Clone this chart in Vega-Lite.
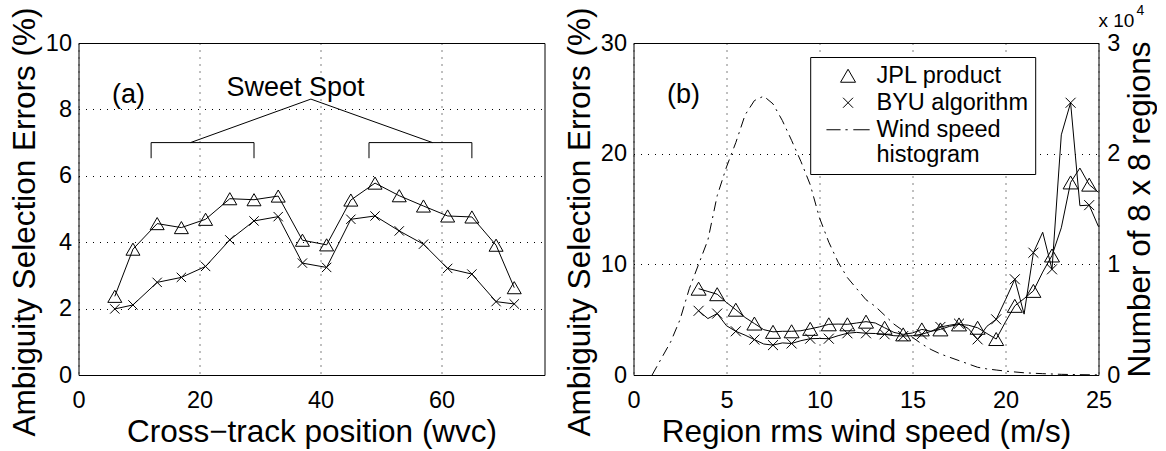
{
  "$schema": "https://vega.github.io/schema/vega-lite/v6.json",
  "padding": {"left": 8.5, "top": 3, "right": 0, "bottom": 0},
  "bounds": "flush",
  "spacing": 89,
  "background": "white",
  "config": {
    "font": "Liberation Sans",
    "view": {"stroke": "black", "strokeWidth": 1},
    "axis": {
      "domain": false, "ticks": false, "grid": true,
      "gridColor": "black", "gridDash": [1, 6], "gridWidth": 1,
      "labelFont": "Liberation Sans", "labelFontSize": 23.5, "labelColor": "black",
      "labelFlush": false, "labelOverlap": false, "labelPadding": 7,
      "titleFont": "Liberation Sans", "titleFontSize": 31.5, "titleFontWeight": "normal",
      "titleColor": "black", "titlePadding": 4
    },
    "axisX": {"labelPadding": 13, "titlePadding": 5},
    "text": {"font": "Liberation Sans", "color": "black"}
  },
  "datasets": {
    "left": [
      {"x": 6, "y": 2.37, "s": "JPL"}, {"x": 9, "y": 3.79, "s": "JPL"}, {"x": 13, "y": 4.56, "s": "JPL"},
      {"x": 17, "y": 4.44, "s": "JPL"}, {"x": 21, "y": 4.69, "s": "JPL"}, {"x": 25, "y": 5.31, "s": "JPL"},
      {"x": 29, "y": 5.28, "s": "JPL"}, {"x": 33, "y": 5.39, "s": "JPL"}, {"x": 37, "y": 4.06, "s": "JPL"},
      {"x": 41, "y": 3.92, "s": "JPL"}, {"x": 45, "y": 5.27, "s": "JPL"}, {"x": 49, "y": 5.78, "s": "JPL"},
      {"x": 53, "y": 5.40, "s": "JPL"}, {"x": 57, "y": 5.09, "s": "JPL"}, {"x": 61, "y": 4.79, "s": "JPL"},
      {"x": 65, "y": 4.76, "s": "JPL"}, {"x": 69, "y": 3.91, "s": "JPL"}, {"x": 72, "y": 2.63, "s": "JPL"},
      {"x": 6, "y": 1.99, "s": "BYU"}, {"x": 9, "y": 2.11, "s": "BYU"}, {"x": 13, "y": 2.79, "s": "BYU"},
      {"x": 17, "y": 2.94, "s": "BYU"}, {"x": 21, "y": 3.27, "s": "BYU"}, {"x": 25, "y": 4.07, "s": "BYU"},
      {"x": 29, "y": 4.64, "s": "BYU"}, {"x": 33, "y": 4.77, "s": "BYU"}, {"x": 37, "y": 3.37, "s": "BYU"},
      {"x": 41, "y": 3.24, "s": "BYU"}, {"x": 45, "y": 4.69, "s": "BYU"}, {"x": 49, "y": 4.79, "s": "BYU"},
      {"x": 53, "y": 4.34, "s": "BYU"}, {"x": 57, "y": 3.94, "s": "BYU"}, {"x": 61, "y": 3.21, "s": "BYU"},
      {"x": 65, "y": 3.04, "s": "BYU"}, {"x": 69, "y": 2.21, "s": "BYU"}, {"x": 72, "y": 2.14, "s": "BYU"}
    ],
    "brackets": [
      {"g": "L", "o": 0, "x": 12, "y": 6.53}, {"g": "L", "o": 1, "x": 12, "y": 7.0},
      {"g": "L", "o": 2, "x": 29, "y": 7.0}, {"g": "L", "o": 3, "x": 29, "y": 6.53},
      {"g": "R", "o": 0, "x": 48, "y": 6.53}, {"g": "R", "o": 1, "x": 48, "y": 7.0},
      {"g": "R", "o": 2, "x": 65, "y": 7.0}, {"g": "R", "o": 3, "x": 65, "y": 6.53},
      {"g": "A", "o": 0, "x": 18.5, "y": 7.0}, {"g": "A", "o": 1, "x": 38.4, "y": 8.31},
      {"g": "A", "o": 2, "x": 58.5, "y": 7.0}
    ],
    "annA": [
      {"x": 8.27, "y": 8.19, "t": "(a)"},
      {"x": 35.85, "y": 8.4, "t": "Sweet Spot"}
    ],
    "annB": [
      {"x": 2.69, "y": 24.57, "t": "(b)"}
    ],
    "expo": [
      {"x": 25, "y": 30, "t": "x 10", "e": "4"}
    ],
    "right": [
      {"x": 3.5, "y": 7.8, "s": "JPL product"}, {"x": 4, "y": 7.55, "s": "JPL product"}, {"x": 4.5, "y": 7.3, "s": "JPL product"},
      {"x": 5, "y": 6.55, "s": "JPL product"}, {"x": 5.5, "y": 5.9, "s": "JPL product"}, {"x": 6, "y": 5.2, "s": "JPL product"},
      {"x": 6.5, "y": 4.65, "s": "JPL product"}, {"x": 7, "y": 4.1, "s": "JPL product"}, {"x": 7.5, "y": 3.9, "s": "JPL product"},
      {"x": 8, "y": 3.95, "s": "JPL product"}, {"x": 8.5, "y": 3.95, "s": "JPL product"}, {"x": 9, "y": 4.0, "s": "JPL product"},
      {"x": 9.5, "y": 4.17, "s": "JPL product"}, {"x": 10, "y": 4.35, "s": "JPL product"}, {"x": 10.5, "y": 4.58, "s": "JPL product"},
      {"x": 11, "y": 4.6, "s": "JPL product"}, {"x": 11.5, "y": 4.58, "s": "JPL product"}, {"x": 12, "y": 4.7, "s": "JPL product"},
      {"x": 12.5, "y": 4.82, "s": "JPL product"}, {"x": 13, "y": 4.7, "s": "JPL product"}, {"x": 13.5, "y": 4.27, "s": "JPL product"},
      {"x": 14, "y": 3.85, "s": "JPL product"}, {"x": 14.5, "y": 3.67, "s": "JPL product"}, {"x": 15, "y": 3.8, "s": "JPL product"},
      {"x": 15.5, "y": 4.12, "s": "JPL product"}, {"x": 16, "y": 3.95, "s": "JPL product"}, {"x": 16.5, "y": 4.12, "s": "JPL product"},
      {"x": 17, "y": 4.4, "s": "JPL product"}, {"x": 17.5, "y": 4.57, "s": "JPL product"}, {"x": 18, "y": 4.5, "s": "JPL product"},
      {"x": 18.5, "y": 4.27, "s": "JPL product"}, {"x": 19, "y": 3.75, "s": "JPL product"}, {"x": 19.5, "y": 3.25, "s": "JPL product"},
      {"x": 20, "y": 4.8, "s": "JPL product"}, {"x": 20.5, "y": 6.25, "s": "JPL product"}, {"x": 21, "y": 6.9, "s": "JPL product"},
      {"x": 21.5, "y": 7.6, "s": "JPL product"}, {"x": 22, "y": 9.3, "s": "JPL product"}, {"x": 22.5, "y": 10.8, "s": "JPL product"},
      {"x": 23, "y": 13.3, "s": "JPL product"}, {"x": 23.5, "y": 17.4, "s": "JPL product"}, {"x": 24, "y": 18.7, "s": "JPL product"},
      {"x": 24.5, "y": 17.2, "s": "JPL product"}, {"x": 25, "y": 16.5, "s": "JPL product"},
      {"x": 3.5, "y": 5.8, "s": "BYU algorithm"}, {"x": 4, "y": 5.1, "s": "BYU algorithm"}, {"x": 4.5, "y": 5.55, "s": "BYU algorithm"},
      {"x": 5, "y": 4.45, "s": "BYU algorithm"}, {"x": 5.5, "y": 3.95, "s": "BYU algorithm"}, {"x": 6, "y": 3.6, "s": "BYU algorithm"},
      {"x": 6.5, "y": 3.2, "s": "BYU algorithm"}, {"x": 7, "y": 2.8, "s": "BYU algorithm"}, {"x": 7.5, "y": 2.7, "s": "BYU algorithm"},
      {"x": 8, "y": 2.9, "s": "BYU algorithm"}, {"x": 8.5, "y": 2.85, "s": "BYU algorithm"}, {"x": 9, "y": 3.1, "s": "BYU algorithm"},
      {"x": 9.5, "y": 3.28, "s": "BYU algorithm"}, {"x": 10, "y": 3.3, "s": "BYU algorithm"}, {"x": 10.5, "y": 3.28, "s": "BYU algorithm"},
      {"x": 11, "y": 3.55, "s": "BYU algorithm"}, {"x": 11.5, "y": 3.77, "s": "BYU algorithm"}, {"x": 12, "y": 3.85, "s": "BYU algorithm"},
      {"x": 12.5, "y": 3.77, "s": "BYU algorithm"}, {"x": 13, "y": 3.75, "s": "BYU algorithm"}, {"x": 13.5, "y": 3.68, "s": "BYU algorithm"},
      {"x": 14, "y": 3.55, "s": "BYU algorithm"}, {"x": 14.5, "y": 3.52, "s": "BYU algorithm"}, {"x": 15, "y": 3.55, "s": "BYU algorithm"},
      {"x": 15.5, "y": 3.68, "s": "BYU algorithm"}, {"x": 16, "y": 3.95, "s": "BYU algorithm"}, {"x": 16.5, "y": 4.34, "s": "BYU algorithm"},
      {"x": 17, "y": 4.5, "s": "BYU algorithm"}, {"x": 17.5, "y": 4.64, "s": "BYU algorithm"}, {"x": 18, "y": 4.2, "s": "BYU algorithm"},
      {"x": 18.5, "y": 3.22, "s": "BYU algorithm"}, {"x": 19, "y": 4.4, "s": "BYU algorithm"}, {"x": 19.5, "y": 5.03, "s": "BYU algorithm"},
      {"x": 20, "y": 6.8, "s": "BYU algorithm"}, {"x": 20.5, "y": 8.65, "s": "BYU algorithm"}, {"x": 21, "y": 5.5, "s": "BYU algorithm"},
      {"x": 21.5, "y": 11.05, "s": "BYU algorithm"}, {"x": 22, "y": 12.9, "s": "BYU algorithm"}, {"x": 22.5, "y": 9.55, "s": "BYU algorithm"},
      {"x": 23, "y": 21.7, "s": "BYU algorithm"}, {"x": 23.5, "y": 24.6, "s": "BYU algorithm"}, {"x": 24, "y": 15.3, "s": "BYU algorithm"},
      {"x": 24.5, "y": 15.35, "s": "BYU algorithm"}, {"x": 25, "y": 13.4, "s": "BYU algorithm"}
    ],
    "hist": [
      {"x": 1, "c": 0}, {"x": 1.5, "c": 1500}, {"x": 2, "c": 3000}, {"x": 2.5, "c": 5000}, {"x": 3, "c": 7800},
      {"x": 3.5, "c": 10000}, {"x": 4, "c": 12200}, {"x": 4.5, "c": 16200}, {"x": 5, "c": 18800}, {"x": 5.5, "c": 21000},
      {"x": 6, "c": 23500}, {"x": 6.5, "c": 24800}, {"x": 7, "c": 25200}, {"x": 7.5, "c": 24500}, {"x": 8, "c": 23000},
      {"x": 8.5, "c": 21200}, {"x": 9, "c": 19300}, {"x": 9.5, "c": 17200}, {"x": 10, "c": 14200}, {"x": 10.5, "c": 12000},
      {"x": 11, "c": 10200}, {"x": 11.5, "c": 8800}, {"x": 12, "c": 7800}, {"x": 12.5, "c": 6800}, {"x": 13, "c": 6200},
      {"x": 13.5, "c": 5400}, {"x": 14, "c": 4600}, {"x": 14.5, "c": 4000}, {"x": 15, "c": 3400}, {"x": 15.5, "c": 2800},
      {"x": 16, "c": 2300}, {"x": 16.5, "c": 1900}, {"x": 17, "c": 1600}, {"x": 17.5, "c": 1300}, {"x": 18, "c": 1000},
      {"x": 18.5, "c": 700}, {"x": 19, "c": 550}, {"x": 19.5, "c": 450}, {"x": 20, "c": 350}, {"x": 21, "c": 200},
      {"x": 22, "c": 120}, {"x": 23, "c": 60}, {"x": 24, "c": 30}, {"x": 25, "c": 10}
    ]
  },
  "hconcat": [
    {
      "width": 466,
      "height": 332,
      "layer": [
        {
          "data": {"name": "left"},
          "mark": {"type": "line", "color": "black", "strokeWidth": 1},
          "encoding": {
            "x": {"field": "x", "type": "quantitative", "scale": {"domain": [0, 77], "nice": false},
                  "axis": {"title": "Cross−track position (wvc)", "values": [0, 20, 40, 60]}},
            "y": {"field": "y", "type": "quantitative", "scale": {"domain": [0, 10], "nice": false},
                  "axis": {"title": "Ambiguity Selection Errors (%)", "values": [0, 2, 4, 6, 8, 10], "titleY": 178.5}},
            "detail": {"field": "s"}
          }
        },
        {
          "data": {"name": "left"},
          "transform": [{"filter": "datum.s == 'JPL'"}],
          "mark": {"type": "point", "shape": "triangle-up", "size": 196, "filled": false, "color": "black", "strokeWidth": 1, "opacity": 1},
          "encoding": {
            "x": {"field": "x", "type": "quantitative"},
            "y": {"field": "y", "type": "quantitative"}
          }
        },
        {
          "data": {"name": "left"},
          "transform": [{"filter": "datum.s == 'BYU'"}],
          "mark": {"type": "point", "shape": "M-0.667,-0.667L0.667,0.667M0.667,-0.667L-0.667,0.667", "size": 196, "filled": false, "color": "black", "strokeWidth": 1, "opacity": 1},
          "encoding": {
            "x": {"field": "x", "type": "quantitative"},
            "y": {"field": "y", "type": "quantitative"}
          }
        },
        {
          "data": {"name": "brackets"},
          "mark": {"type": "line", "color": "black", "strokeWidth": 1},
          "encoding": {
            "x": {"field": "x", "type": "quantitative"},
            "y": {"field": "y", "type": "quantitative"},
            "detail": {"field": "g"},
            "order": {"field": "o"}
          }
        },
        {
          "data": {"name": "annA"},
          "mark": {"type": "text", "fontSize": 27, "align": "center", "baseline": "alphabetic", "color": "black"},
          "encoding": {
            "x": {"field": "x", "type": "quantitative"},
            "y": {"field": "y", "type": "quantitative"},
            "text": {"field": "t"}
          }
        }
      ]
    },
    {
      "width": 465,
      "height": 332,
      "layer": [
        {
          "layer": [
            {
              "data": {"name": "right"},
              "mark": {"type": "line", "color": "black", "strokeWidth": 1},
              "encoding": {
                "x": {"field": "x", "type": "quantitative", "scale": {"domain": [0, 25], "nice": false},
                      "axis": {"title": "Region rms wind speed (m/s)", "values": [0, 5, 10, 15, 20, 25]}},
                "y": {"field": "y", "type": "quantitative", "scale": {"domain": [0, 30], "nice": false},
                      "axis": {"title": "Ambiguity Selection Errors (%)", "values": [0, 10, 20, 30], "titleY": 178.5}},
                "detail": {"field": "s"}
              }
            },
            {
              "data": {"name": "right"},
              "transform": [{"filter": "datum.s == 'JPL product' && datum.x % 1 == 0.5"}],
              "mark": {"type": "point", "size": 225, "filled": false, "color": "black", "strokeWidth": 1, "opacity": 1},
              "encoding": {
                "x": {"field": "x", "type": "quantitative"},
                "y": {"field": "y", "type": "quantitative"},
                "shape": {
                  "field": "s", "type": "nominal",
                  "scale": {
                    "domain": ["JPL product", "BYU algorithm", "Wind speed histogram"],
                    "range": ["triangle-up", "M-0.667,-0.667L0.667,0.667M0.667,-0.667L-0.667,0.667", "M-2.88,0L-1.0,0M-0.35,0L-0.05,0M0.7,0L2.88,0"]
                  },
                  "legend": {
                    "title": null, "orient": "none", "legendX": 731.7, "legendY": 14,
                    "direction": "vertical", "padding": 7, "rowPadding": 2,
                    "symbolOffset": 19.1, "labelOffset": 16.7, "symbolSize": 225,
                    "symbolStrokeWidth": 1, "symbolStrokeColor": "black", "symbolFillColor": "transparent",
                    "labelFont": "Liberation Sans", "labelFontSize": 23.5, "labelColor": "black", "labelLimit": 0,
                    "strokeColor": "black", "fillColor": "white",
                    "labelExpr": "datum.label == 'Wind speed histogram' ? ['Wind speed', '\u00a0histogram'] : datum.label"
                  }
                }
              }
            },
            {
              "data": {"name": "right"},
              "transform": [{"filter": "datum.s == 'BYU algorithm' && datum.x % 1 == 0.5"}],
              "mark": {"type": "point", "size": 225, "filled": false, "color": "black", "strokeWidth": 1, "opacity": 1},
              "encoding": {
                "x": {"field": "x", "type": "quantitative"},
                "y": {"field": "y", "type": "quantitative"},
                "shape": {"field": "s", "type": "nominal"}
              }
            },
            {
              "data": {"name": "annB"},
              "mark": {"type": "text", "fontSize": 27, "align": "center", "baseline": "alphabetic", "color": "black"},
              "encoding": {
                "x": {"field": "x", "type": "quantitative"},
                "y": {"field": "y", "type": "quantitative"},
                "text": {"field": "t"}
              }
            },
            {
              "data": {"name": "expo"},
              "mark": {"type": "text", "fontSize": 19, "align": "left", "baseline": "alphabetic", "dy": -16, "color": "black"},
              "encoding": {
                "x": {"field": "x", "type": "quantitative"},
                "y": {"field": "y", "type": "quantitative"},
                "text": {"field": "t"}
              }
            },
            {
              "data": {"name": "expo"},
              "mark": {"type": "text", "fontSize": 14, "align": "left", "baseline": "alphabetic", "dx": 38, "dy": -28, "color": "black"},
              "encoding": {
                "x": {"field": "x", "type": "quantitative"},
                "y": {"field": "y", "type": "quantitative"},
                "text": {"field": "e"}
              }
            }
          ]
        },
        {
          "data": {"name": "hist"},
          "mark": {"type": "line", "color": "black", "strokeWidth": 1, "strokeDash": [10, 5, 2, 5]},
          "encoding": {
            "x": {"field": "x", "type": "quantitative"},
            "y": {"field": "c", "type": "quantitative", "scale": {"domain": [0, 30000], "nice": false},
                  "axis": {"orient": "right", "title": "Number of 8 x 8 regions", "values": [0, 10000, 20000, 30000],
                           "labelExpr": "format(datum.value / 10000, 'd')", "grid": false,
                           "titleAngle": -90, "titleBaseline": "top", "labelPadding": 8.3, "titlePadding": 4.5}}
          }
        }
      ],
      "resolve": {"scale": {"y": "independent"}}
    }
  ]
}
